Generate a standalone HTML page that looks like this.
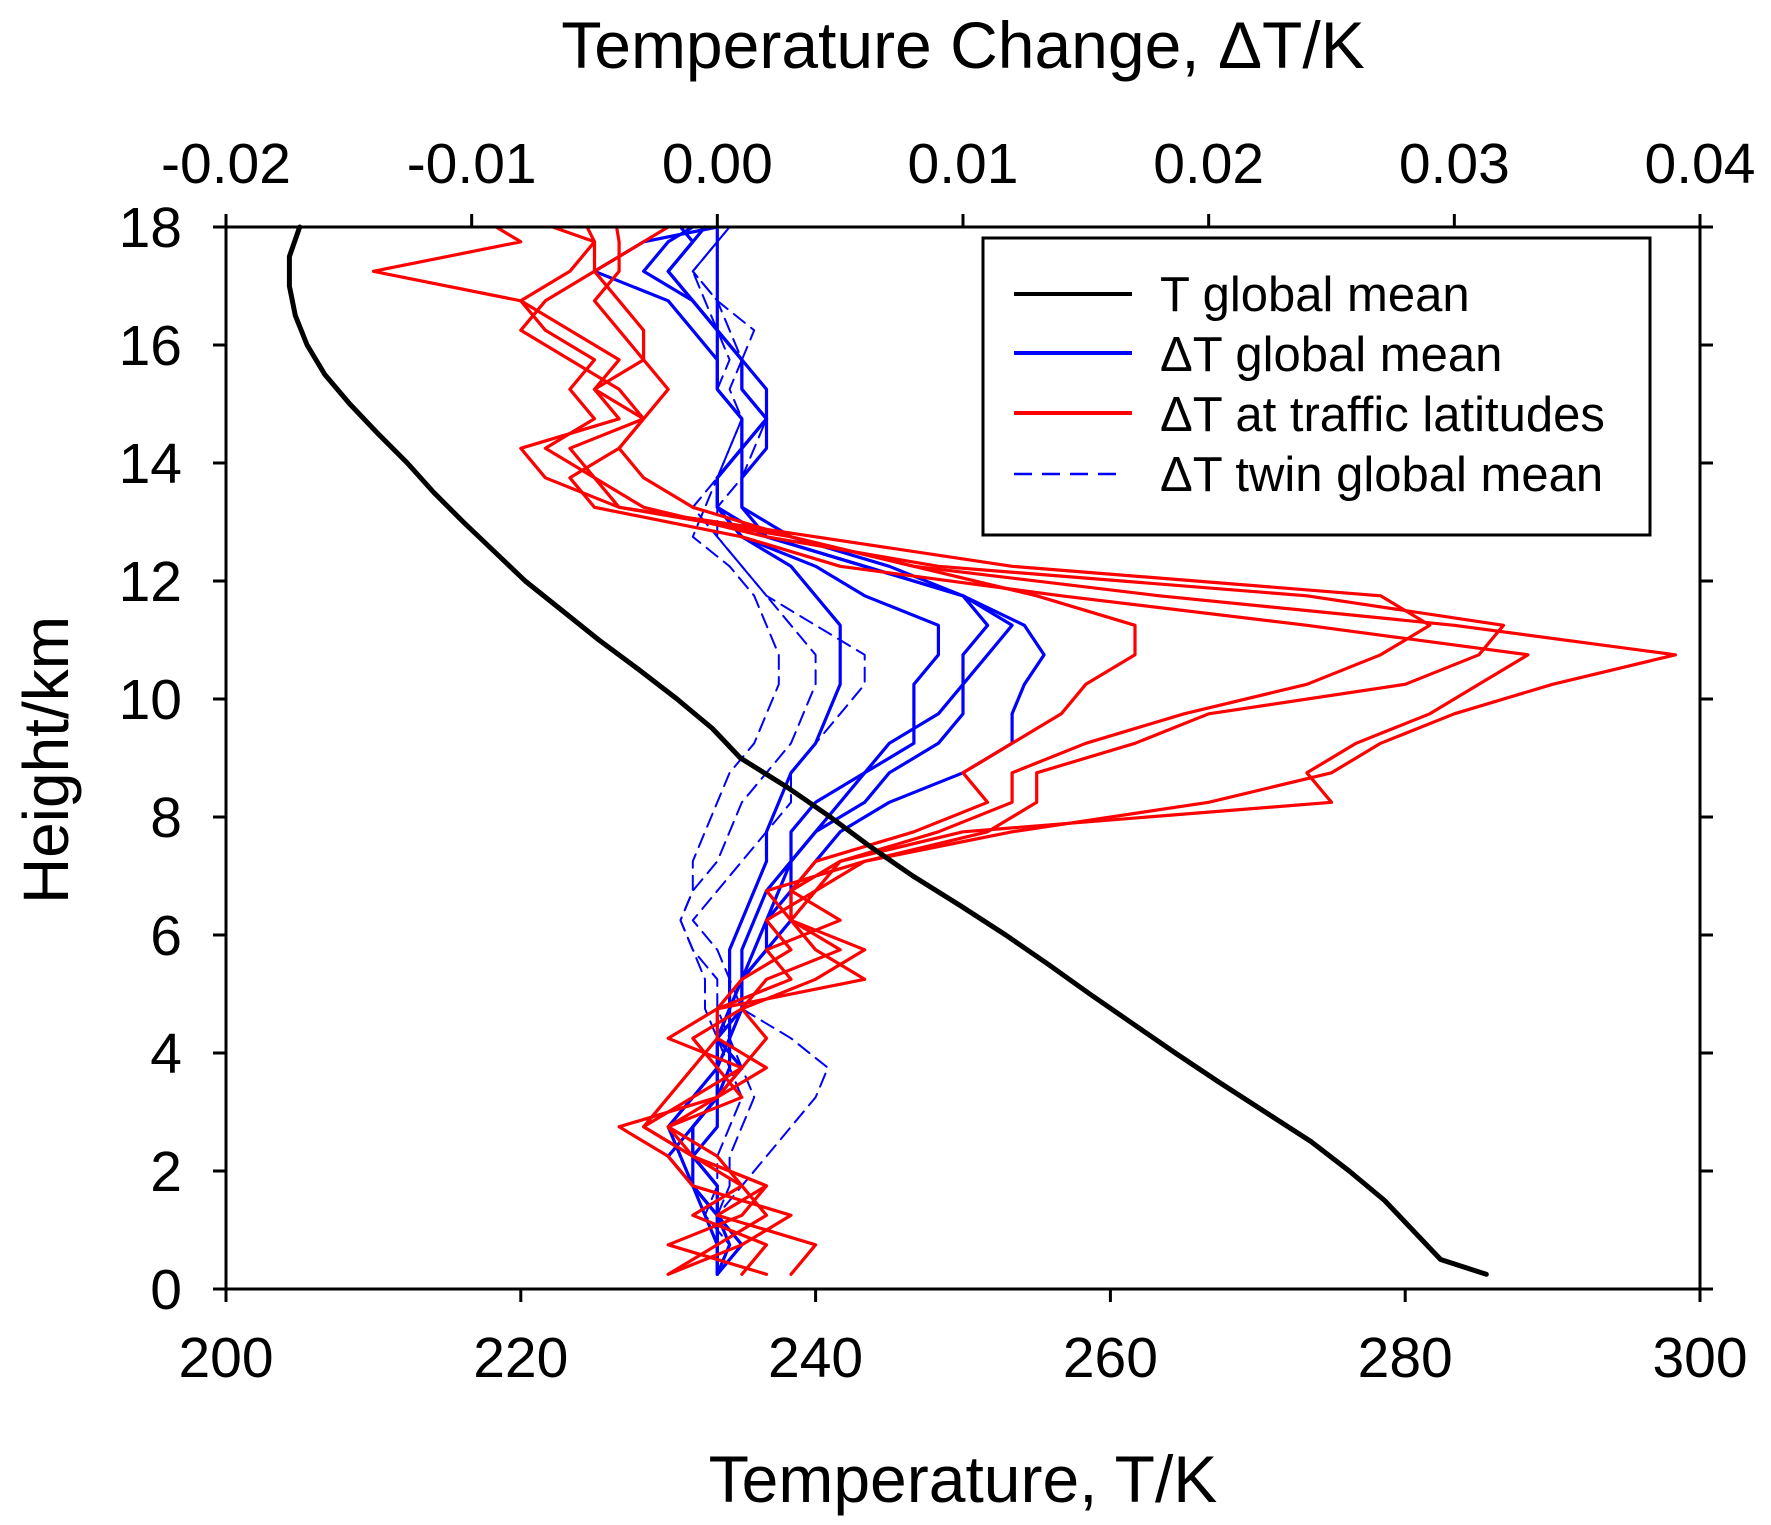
<!DOCTYPE html>
<html><head><meta charset="utf-8"><style>
html,body{margin:0;padding:0;background:#fff}
svg{display:block;font-family:"Liberation Sans",Arial,sans-serif}
</style></head><body>
<svg id="chart" width="1771" height="1525" viewBox="0 0 1771 1525" xmlns="http://www.w3.org/2000/svg">
<g id="marks"></g>
<g id="axes"></g>
<text x="963" y="68" font-size="66" text-anchor="middle">Temperature Change, ΔT/K</text>
<text x="963" y="1502" font-size="66" text-anchor="middle">Temperature, T/K</text>
<text x="0" y="0" font-size="64" text-anchor="middle" transform="translate(68,760) rotate(-90)">Height/km</text>
<g>
<rect x="983" y="238" width="667" height="297" fill="#fff" stroke="#000" stroke-width="3"/>
<line x1="1014" y1="294" x2="1132" y2="294" stroke="#000" stroke-width="4"/>
<text x="1160" y="311" font-size="49">T global mean</text>
<line x1="1014" y1="353" x2="1132" y2="353" stroke="#0000ff" stroke-width="4"/>
<text x="1160" y="371" font-size="49">ΔT global mean</text>
<line x1="1014" y1="413" x2="1132" y2="413" stroke="#ff0000" stroke-width="4"/>
<text x="1160" y="431" font-size="49">ΔT at traffic latitudes</text>
<line x1="1014" y1="474" x2="1125" y2="474" stroke="#0000ff" stroke-width="2.5" stroke-dasharray="18,10"/>
<text x="1160" y="491" font-size="49">ΔT twin global mean</text>
</g>
</svg>
<script>
const heights=[0.25,0.75,1.25,1.75,2.25,2.75,3.25,3.75,4.25,4.75,5.25,5.75,6.25,6.75,7.25,7.75,8.25,8.75,9.25,9.75,10.25,10.75,11.25,11.75,12.25,12.75,13.25,13.75,14.25,14.75,15.25,15.75,16.25,16.75,17.25,17.75,18];
const tHeights=[0.25,0.5,1,1.5,2,2.5,3,3.5,4,4.5,5,5.5,6,6.5,7,7.5,8,8.5,9,9.5,10,10.5,11,11.5,12,12.5,13,13.5,14,14.5,15,15.5,16,16.5,17,17.5,18];
const tGlobal=[285.5,282.4,280.5,278.6,276.2,273.6,270.5,267.4,264.4,261.5,258.6,255.8,252.9,249.8,246.6,243.7,241,238.1,234.9,233,230.6,228,225.3,222.8,220.3,218.2,216.1,214.1,212.3,210.3,208.4,206.7,205.5,204.7,204.3,204.3,205];
// Delta T series in mK
const red1=[3,4,0,2,-1,-3,-1,1,2,1,4,6,3,4,6,12,20,25,27,30,34,39,30,18,8,3,-4,-5,-6,-3,-5,-4,-6,-8,-14,-8,-9];
const red2=[-2,1,3,-1,-2,-4,0,2,0,0,3,2,5,3,5,10,25,24,26,29,31,33,24,14,5,1,-5,-6,-4,-3,-4,-6,-8,-7,-5,-5,-6.7];
const red3=[2,-2,1,2,-1,-2,1,0,-1,1,2,5,3,2,6,11,13,13,17,20,28,31,32,24,9,2,-3,-5,-7,-5,-6,-5,-7,-8,-6,-5,-5.3];
const red4=[-2,0,2,1,-1,-3,-2,-1,0,0,1,3,2,4,5,9,12,12,15,19,24,27,29,27,12,4,-4,-7,-8,-4,-5,-3,-4,-5,-4,-4,-4.1];
const red5=[1,2,-1,1,0,-2,0,1,-2,0,6,4,3,3,4,8,11,10,12,14,15,17,17,13,8,3,-1,-3,-4,-3,-2,-3,-3,-4,-5,-3,-2];
const blue1=[0,1,0,0,-1,-1,0,1,0,1,1,2,3,3,4,5,7,10,12,12,12.5,13.3,12.5,10,7,3,1,1,2,2,2,1,0,0,0,0,0];
const blue2=[0,0.5,0,-1,-1,-1,0,0.5,0.5,1,1,2,2,3,3,4,6,7,9,10,10,11,12,10,6,2,0,0,1,2,1,1,0,-1,-2,-1,-0.5];
const blue3=[0,0,0,-1,-1.5,-2,-1,0,0,0.5,1,1.5,2,2.5,3,4,5,6,7,9,10,10,11,10,6,2,1,1,1,2,1,1,0,-1,-3,-2,-1];
const blue4=[0,0,-0.5,-1,-2,-1,0,0,0.5,0.5,1,1,1.5,2,3,3,4,6,8,8,8,9,9,6,4,1,0,0,1,1,0,0,-1,-2,-5,-3,0];
const blue5=[0,0,0,0,-1,0,0,0,0,0.5,0.5,0.5,1,1.5,2,2,2.5,3,4,4.5,5,5,5,4,3,1,0,0,1,1,0,0,0,-1,-2,-1,-1.5];
const twin1=[0,1,0,1,2,3,4,4.5,3,1,0.5,0,-1,0,1,2,3,3,4,5,6,6,4,2,1,0,0,1,1.5,2,1,1,1.5,0,-1,0,0];
const twin2=[0,0.5,0,0.5,0.5,1,1.5,1,0.5,0,0,-1,-1.5,-1,0,0.5,1,2,3,3.5,4,4,3,2,1,0,-1,0,0.5,1,0.5,1,0.5,0,-1,0,0.5];
const twin3=[0,0.5,-0.5,0,0,0.5,1,0.5,0,-0.5,-0.5,-1,-1.5,-1,-1,-0.5,0,0.5,1.5,2,2.5,2.5,2,1.5,0.5,-1,-0.5,0,0.5,1,0,0.5,0,-0.5,-1,0,0.5];
const xTicks=[200,220,240,260,280,300];
const topTicks=[-0.02,-0.01,0,0.01,0.02,0.03,0.04];
const topLabels=["-0.02","-0.01","0.00","0.01","0.02","0.03","0.04"];
const yTicks=[0,2,4,6,8,10,12,14,16,18];

const L=226,R=1700,T=227,B=1289;
const xT=v=>L+(v-200)/100*(R-L);
const xD=mk=>L+(mk/1000+0.02)/0.06*(R-L);
const yH=h=>B-h/18*(B-T);
const NS='http://www.w3.org/2000/svg';
const marks=document.getElementById('marks'),axes=document.getElementById('axes');
function mk(tag,attrs,parent){const e=document.createElementNS(NS,tag);for(const k in attrs)e.setAttribute(k,attrs[k]);parent.appendChild(e);return e;}
function series(vals,hs,fx,color,w,dash,name){
  const d=vals.map((v,i)=>(i?'L':'M')+fx(v).toFixed(1)+','+yH(hs[i]).toFixed(1)).join('');
  const p=mk('path',{d:d,fill:'none',stroke:color,'stroke-width':w,'stroke-linejoin':'round','stroke-linecap':'round'},marks);
  if(dash)p.setAttribute('stroke-dasharray',dash);
  
  
}
[twin1,twin2,twin3].forEach((s,i)=>series(s,heights,xD,'#0000ff',2,'14,8','twin-line-'+(i+1)));
[blue1,blue2,blue3,blue4,blue5].forEach((s,i)=>series(s,heights,xD,'#0000ff',3.2,null,'dt-global-line-'+(i+1)));
[red1,red2,red3,red4,red5].forEach((s,i)=>series(s,heights,xD,'#ff0000',3.2,null,'dt-traffic-line-'+(i+1)));
series(tGlobal,tHeights,xT,'#000',5,null,'t-global-line');

const frame=mk('path',{d:`M${L},${T}H${R}V${B}H${L}Z`,fill:'none',stroke:'#000','stroke-width':3},axes);


xTicks.forEach(v=>{
  const x=xT(v);
  const t=mk('line',{x1:x,y1:B,x2:x,y2:B+13,stroke:'#000','stroke-width':3},axes);
  
  
  const l=mk('text',{x:x,y:B+88,'font-size':57,'text-anchor':'middle'},axes);
  l.textContent=v;
  
  
});
topTicks.forEach((v,i)=>{
  const x=xD(v*1000);
  const t=mk('line',{x1:x,y1:T,x2:x,y2:T-13,stroke:'#000','stroke-width':3},axes);
  
  
  const l=mk('text',{x:x,y:T-44,'font-size':57,'text-anchor':'middle'},axes);
  l.textContent=topLabels[i];
  
  
});
yTicks.forEach(v=>{
  const y=yH(v);
  const t=mk('line',{x1:L-13,y1:y,x2:L,y2:y,stroke:'#000','stroke-width':3},axes);
  
  
  const t2=mk('line',{x1:R,y1:y,x2:R+13,y2:y,stroke:'#000','stroke-width':3},axes);
  
  
  const l=mk('text',{x:L-44,y:y+20,'font-size':57,'text-anchor':'end'},axes);
  l.textContent=v;
  
  
});
</script>
</body></html>
